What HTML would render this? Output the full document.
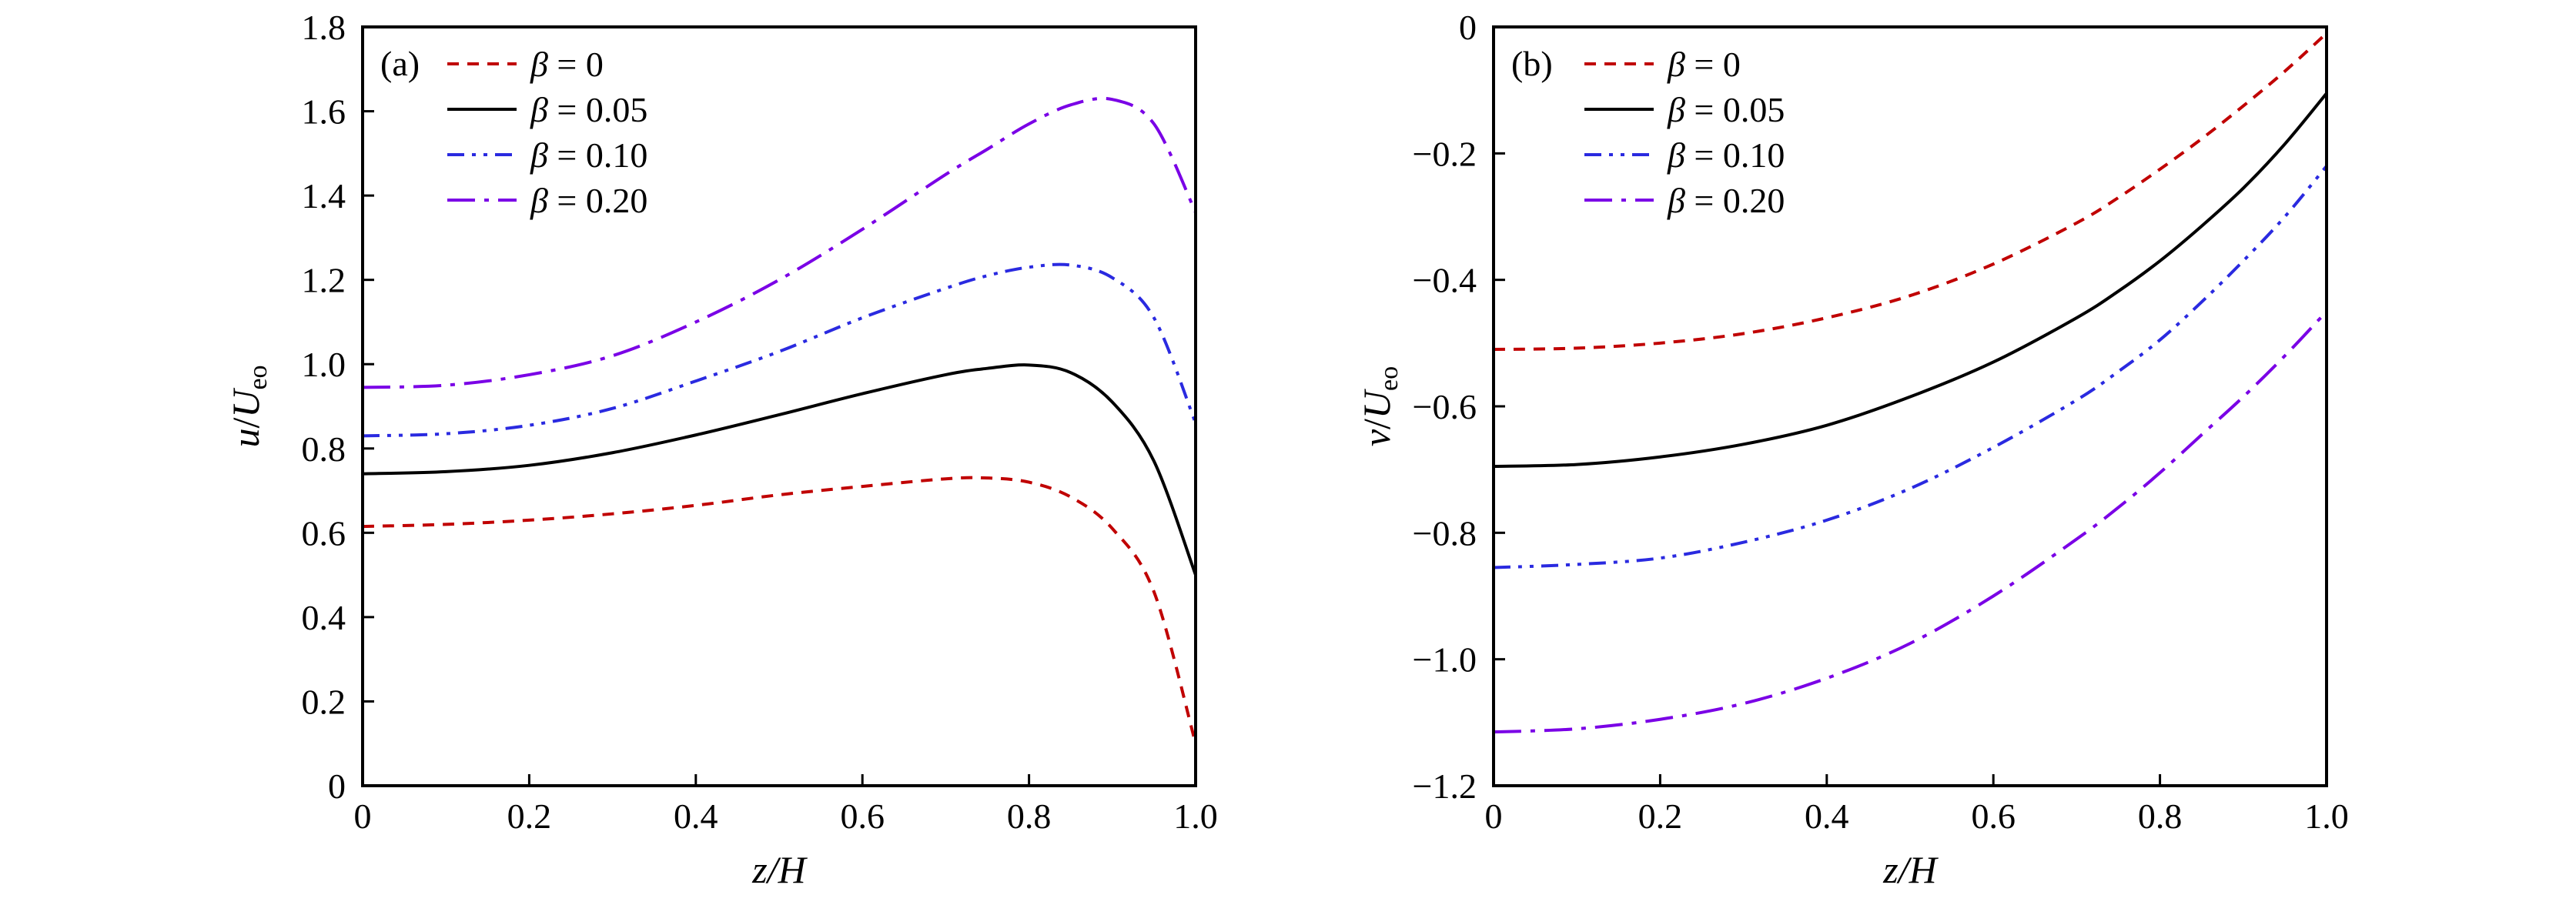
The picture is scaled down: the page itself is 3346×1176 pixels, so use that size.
<!DOCTYPE html>
<html><head><meta charset="utf-8"><style>
html,body{margin:0;padding:0;background:#fff}
svg text{font-family:"Liberation Serif",serif;fill:#000}
</style></head><body>
<svg width="3346" height="1171" viewBox="0 0 3346 1171" xmlns="http://www.w3.org/2000/svg">
<g id="pa"></g>
<g id="pb"></g>
</svg>
<script>
const xs = [0,0.1,0.2,0.3,0.4,0.5,0.6,0.7,0.75,0.8,0.85,0.9,0.95,1.0];
const betaLabels = ["0","0.05","0.10","0.20"];
const aRed    = [0.615,0.62,0.63,0.645,0.665,0.69,0.71,0.728,0.73,0.72,0.685,0.61,0.46,0.1];
const aBlack  = [0.74,0.745,0.76,0.79,0.832,0.88,0.93,0.975,0.99,0.998,0.98,0.91,0.77,0.5];
const aBlue   = [0.83,0.835,0.855,0.895,0.96,1.03,1.11,1.18,1.21,1.23,1.235,1.205,1.11,0.86];
const aPurple = [0.945,0.95,0.975,1.02,1.1,1.2,1.32,1.45,1.51,1.57,1.615,1.628,1.57,1.36];
const bRed    = [-0.51,-0.508,-0.5,-0.485,-0.46,-0.425,-0.375,-0.31,-0.27,-0.225,-0.177,-0.125,-0.07,-0.01];
const bBlack  = [-0.695,-0.692,-0.68,-0.66,-0.63,-0.585,-0.53,-0.46,-0.418,-0.37,-0.315,-0.255,-0.185,-0.105];
const bBlue   = [-0.855,-0.85,-0.84,-0.815,-0.78,-0.73,-0.665,-0.59,-0.545,-0.495,-0.435,-0.37,-0.3,-0.22];
const bPurple = [-1.115,-1.11,-1.095,-1.07,-1.03,-0.975,-0.9,-0.81,-0.76,-0.705,-0.645,-0.585,-0.52,-0.45];
const xTicks = [0,0.2,0.4,0.6,0.8,1.0];
const xTickLabels = ["0","0.2","0.4","0.6","0.8","1.0"];
const aYTicks = [0,0.2,0.4,0.6,0.8,1.0,1.2,1.4,1.6,1.8];
const aYTickLabels = ["0","0.2","0.4","0.6","0.8","1.0","1.2","1.4","1.6","1.8"];
const bYTicks = [-1.2,-1.0,-0.8,-0.6,-0.4,-0.2,0];
const bYTickLabels = ["\u22121.2","\u22121.0","\u22120.8","\u22120.6","\u22120.4","\u22120.2","0"];

const NS="http://www.w3.org/2000/svg";
const styles=[
 {c:"#c00000",d:"15 11"},
 {c:"#000000",d:""},
 {c:"#2a2ae0",d:"22 10 5 10 5 10"},
 {c:"#7a00e6",d:"36 12 6 12"}];
function mk(p,t,a){const e=document.createElementNS(NS,t);for(const k in a)e.setAttribute(k,a[k]);p.appendChild(e);return e;}
function path(pts){let d="M"+pts[0][0]+","+pts[0][1];
 for(let i=0;i<pts.length-1;i++){const p0=pts[Math.max(0,i-1)],p1=pts[i],p2=pts[i+1],p3=pts[Math.min(pts.length-1,i+2)];
 const c1=[p1[0]+(p2[0]-p0[0])/6,p1[1]+(p2[1]-p0[1])/6],c2=[p2[0]-(p3[0]-p1[0])/6,p2[1]-(p3[1]-p1[1])/6];
 d+=" C"+c1.join(",")+" "+c2.join(",")+" "+p2.join(",");}return d;}
function panel(g,L,R,T,B,ymin,ymax,yt,ytl,series,tag,ylab,legX){
 const sx=v=>L+(R-L)*v, sy=v=>B-(B-T)*(v-ymin)/(ymax-ymin);
 series.forEach((s,i)=>{
  const p=mk(g,"path",{d:path(xs.map((x,j)=>[sx(x),sy(s[j])])),fill:"none",stroke:styles[i].c,"stroke-width":4,"stroke-dasharray":styles[i].d});
  
  
 });
 const fr=mk(g,"rect",{x:L,y:T,width:R-L,height:B-T,fill:"none",stroke:"#000","stroke-width":4});
 
 xTicks.forEach((v,i)=>{
  const t=mk(g,"line",{x1:sx(v),x2:sx(v),y1:B,y2:B-15,stroke:"#000","stroke-width":3});
  
  const tx=mk(g,"text",{x:sx(v),y:1076,"font-size":46,"text-anchor":"middle"});tx.textContent=xTickLabels[i];
  
 });
 yt.forEach((v,i)=>{
  const t=mk(g,"line",{x1:L,x2:L+15,y1:sy(v),y2:sy(v),stroke:"#000","stroke-width":3});
  
  const tx=mk(g,"text",{x:L-22,y:sy(v)+16,"font-size":46,"text-anchor":"end"});tx.textContent=ytl[i];
  
 });
 const xl=mk(g,"text",{x:(L+R)/2,y:1147,"font-size":50,"font-style":"italic","text-anchor":"middle"});
 xl.textContent="z/H";
 const yl=mk(g,"text",{x:0,y:0,"font-size":50,"text-anchor":"middle",transform:`translate(${L-135},528) rotate(-90)`});
 yl.innerHTML=`<tspan font-style="italic">${ylab}</tspan>/<tspan font-style="italic">U</tspan><tspan font-size="34" dy="10">eo</tspan>`;
 
 const tg=mk(g,"text",{x:L+23,y:98,"font-size":46});tg.textContent=tag;
 
 betaLabels.forEach((b,i)=>{
  const y=83+59*i;
  const ln=mk(g,"line",{x1:legX,x2:legX+90,y1:y,y2:y,stroke:styles[i].c,"stroke-width":4,"stroke-dasharray":styles[i].d});
  
  const tx=mk(g,"text",{x:legX+108,y:y+16,"font-size":46});
  tx.innerHTML=`<tspan font-style="italic">β</tspan> = ${b}`;
  
 });
}
panel(document.getElementById("pa"),471,1553,35,1021,0,1.8,aYTicks,aYTickLabels,[aRed,aBlack,aBlue,aPurple],"(a)","u",581);
panel(document.getElementById("pb"),1940,3022,35,1021,-1.2,0,bYTicks,bYTickLabels,[bRed,bBlack,bBlue,bPurple],"(b)","v",2058);
</script>
</body></html>
